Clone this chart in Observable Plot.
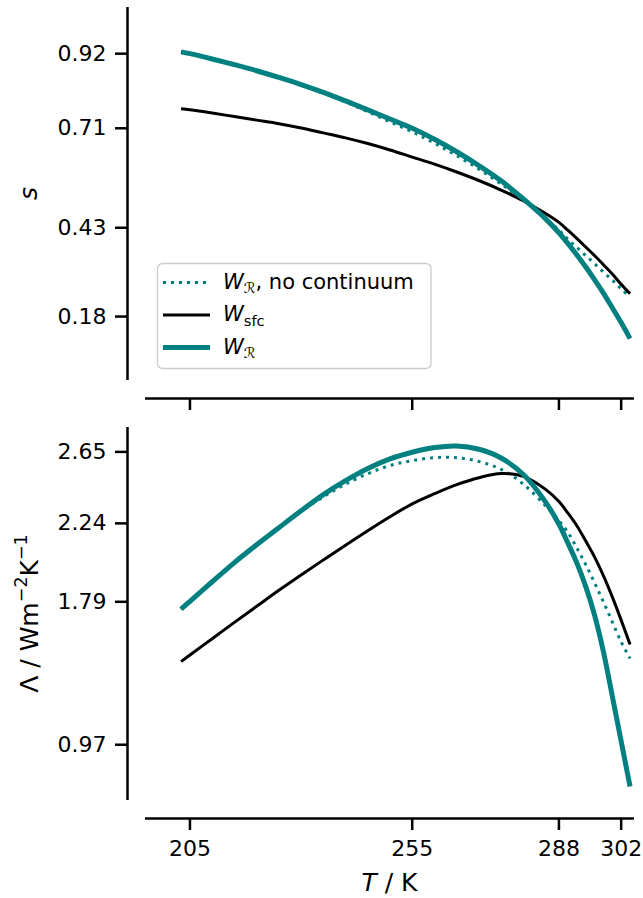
<!DOCTYPE html>
<html>
<head>
<meta charset="utf-8">
<script src="https://cdn.jsdelivr.net/npm/d3@7"></script>
<script src="https://cdn.jsdelivr.net/npm/@observablehq/plot@0.6"></script>
<style>
  html, body { margin: 0; padding: 0; background: #fff; }
  #chart { width: 643px; }
  #chart svg { display: block; }
</style>
</head>
<body>
<div id="chart"></div>
<script>
// ---------- data ----------
const T = [203, 205, 210, 215, 220, 225, 230, 235, 240, 245, 250, 255, 260, 265, 270, 275, 280, 285, 288, 290, 292, 294, 296, 298, 300, 302, 304];

// top panel: s
const sWR   = [0.925, 0.920, 0.905, 0.889, 0.872, 0.853, 0.833, 0.811, 0.787, 0.762, 0.736, 0.710, 0.679, 0.644, 0.605, 0.562, 0.511, 0.455, 0.416, 0.386, 0.354, 0.320, 0.284, 0.246, 0.205, 0.163, 0.118];
const sWRnc = [0.925, 0.920, 0.905, 0.889, 0.872, 0.853, 0.832, 0.809, 0.784, 0.757, 0.728, 0.700, 0.668, 0.633, 0.595, 0.553, 0.507, 0.457, 0.423, 0.398, 0.375, 0.352, 0.329, 0.305, 0.283, 0.258, 0.235];
const sSfc  = [0.765, 0.762, 0.753, 0.743, 0.733, 0.723, 0.711, 0.697, 0.683, 0.667, 0.649, 0.629, 0.609, 0.587, 0.563, 0.536, 0.506, 0.470, 0.445, 0.423, 0.400, 0.376, 0.352, 0.326, 0.300, 0.271, 0.244];

// bottom panel: Lambda
const lamWR   = [1.748, 1.793, 1.905, 2.015, 2.117, 2.215, 2.312, 2.405, 2.485, 2.555, 2.610, 2.648, 2.675, 2.684, 2.665, 2.615, 2.520, 2.362, 2.235, 2.128, 2.015, 1.880, 1.715, 1.505, 1.250, 0.990, 0.730];
const lamWRnc = [1.748, 1.793, 1.905, 2.015, 2.117, 2.215, 2.308, 2.392, 2.465, 2.525, 2.572, 2.600, 2.617, 2.617, 2.595, 2.550, 2.465, 2.340, 2.255, 2.190, 2.100, 2.005, 1.900, 1.790, 1.675, 1.560, 1.465];
const lamSfc  = [1.447, 1.485, 1.578, 1.672, 1.764, 1.856, 1.944, 2.030, 2.115, 2.198, 2.278, 2.352, 2.410, 2.462, 2.502, 2.526, 2.510, 2.435, 2.365, 2.300, 2.228, 2.140, 2.048, 1.940, 1.818, 1.685, 1.545];

// ticks and domains
const tTicks   = [205, 255, 288, 302];
const sTicks   = [0.92, 0.71, 0.43, 0.18];
const lamTicks = [2.65, 2.24, 1.79, 0.97];
const tDomain   = [195, 305];
const sDomain   = [0, 1.05];
const lamDomain = [0.65, 2.79];

// series / legend
const seriesNames = ["nc", "sfc", "wr"];
const legendParts = [
  [{t: "W", italic: true}, {t: "ℛ", sub: true}, {t: ", no continuum"}],
  [{t: "W", italic: true}, {t: "sfc", sub: true}],
  [{t: "W", italic: true}, {t: "ℛ", sub: true}]
];

// ---------- styles ----------
const FONT = "DejaVu Sans";
const TEAL = "#008080";
const styles = {
  nc:  {stroke: TEAL, strokeWidth: 3, strokeDasharray: "3,5"},
  sfc: {stroke: "black", strokeWidth: 3},
  wr:  {stroke: TEAL, strokeWidth: 5}
};

const rows = (vals) => T.map((t, i) => ({T: t, v: vals[i]}));

function richText(g, x, y, parts, o) {
  const size = o.size;
  const t = g.append("text")
    .attr("x", x).attr("y", y)
    .attr("font-family", FONT)
    .attr("font-size", size)
    .attr("fill", "black")
    .attr("text-anchor", o.anchor || "start");
  if (o.rotate) t.attr("transform", `rotate(${o.rotate},${x},${y})`);
  let shift = 0;
  for (const p of parts) {
    const ts = t.append("tspan").text(p.t);
    let target = 0;
    if (p.sub) target = size * 0.22;
    if (p.sup) target = -size * 0.42;
    if (target !== shift) { ts.attr("dy", target - shift); shift = target; }
    if (p.sub || p.sup) ts.attr("font-size", size * 0.7);
    if (p.italic) ts.attr("font-style", "italic");
  }
  return t;
}

function lineMarks(data) {
  return seriesNames.map((k) =>
    Plot.line(rows(data[k]), {x: "T", y: "v", curve: "catmull-rom", strokeLinecap: "butt", ...styles[k]})
  );
}

const common = {
  width: 643,
  marginLeft: 127,
  marginRight: 9,
  marginTop: 7,
  style: {fontFamily: FONT, fontSize: "22px", color: "black", background: "white", overflow: "visible"}
};

// ---------- top panel ----------
const topPlot = Plot.plot({
  ...common,
  height: 420,
  marginBottom: 22,
  x: {domain: tDomain, insetLeft: 18, label: null},
  y: {domain: sDomain, insetBottom: 18, label: null},
  marks: [
    Plot.ruleX([tDomain[0]], {y1: sDomain[0], y2: sDomain[1], dx: -18, strokeWidth: 2.5}),
    Plot.ruleY([sDomain[0]], {x1: tDomain[0], x2: tDomain[1], dy: 18, strokeWidth: 2.5}),
    Plot.axisY({ticks: sTicks, tickSize: 12, tickPadding: 9, strokeWidth: 2.5, label: null, tickFormat: (d) => d3.format(".2f")(d)}),
    Plot.axisX({ticks: tTicks, tickSize: 12, strokeWidth: 2.5, label: null, tickFormat: () => ""}),
    ...lineMarks({nc: sWRnc, sfc: sSfc, wr: sWR}),
    (index, scales, values, dim) => {
      const g = d3.create("svg:g");
      const yc = (scales.y(sDomain[0]) + scales.y(sDomain[1])) / 2;
      richText(g, 36.5, yc, [{t: "s", italic: true}], {size: 25, anchor: "middle", rotate: -90});
      // legend
      g.append("rect")
        .attr("x", 157.5).attr("y", 263.5).attr("width", 273.5).attr("height", 105).attr("rx", 5)
        .attr("fill", "white").attr("fill-opacity", 0.8)
        .attr("stroke", "#cccccc").attr("stroke-width", 1.3);
      const ys = [282.5, 315, 347.5];
      seriesNames.forEach((k, i) => {
        const s = styles[k];
        g.append("line")
          .attr("x1", 163).attr("x2", 210).attr("y1", ys[i]).attr("y2", ys[i])
          .attr("stroke", s.stroke).attr("stroke-width", s.strokeWidth)
          .attr("stroke-dasharray", s.strokeDasharray || null);
        richText(g, 223, ys[i] + 6, legendParts[i], {size: 21});
      });
      return g.node();
    }
  ]
});

// ---------- bottom panel ----------
const bottomPlot = Plot.plot({
  ...common,
  height: 478,
  marginBottom: 80,
  x: {domain: tDomain, insetLeft: 18, label: null},
  y: {domain: lamDomain, insetBottom: 18, label: null},
  marks: [
    Plot.ruleX([tDomain[0]], {y1: lamDomain[0], y2: lamDomain[1], dx: -18, strokeWidth: 2.5}),
    Plot.ruleY([lamDomain[0]], {x1: tDomain[0], x2: tDomain[1], dy: 18, strokeWidth: 2.5}),
    Plot.axisY({ticks: lamTicks, tickSize: 12, tickPadding: 9, strokeWidth: 2.5, label: null, tickFormat: (d) => d3.format(".2f")(d)}),
    Plot.axisX({ticks: tTicks, tickSize: 12, tickPadding: 10, strokeWidth: 2.5, label: null, tickFormat: (d) => String(d)}),
    ...lineMarks({nc: lamWRnc, sfc: lamSfc, wr: lamWR}),
    (index, scales, values, dim) => {
      const g = d3.create("svg:g");
      const yc = (scales.y(lamDomain[0]) + scales.y(lamDomain[1])) / 2;
      const xc = (scales.x(tDomain[0]) + scales.x(tDomain[1])) / 2;
      richText(g, 37.5, yc, [{t: "Λ / Wm"}, {t: "−2", sup: true}, {t: "K"}, {t: "−1", sup: true}], {size: 25, anchor: "middle", rotate: -90});
      richText(g, xc, 471, [{t: "T", italic: true}, {t: " / K"}], {size: 25, anchor: "middle"});
      return g.node();
    }
  ]
});

const chart = document.getElementById("chart");
chart.appendChild(topPlot);
chart.appendChild(bottomPlot);
</script>
</body>
</html>
